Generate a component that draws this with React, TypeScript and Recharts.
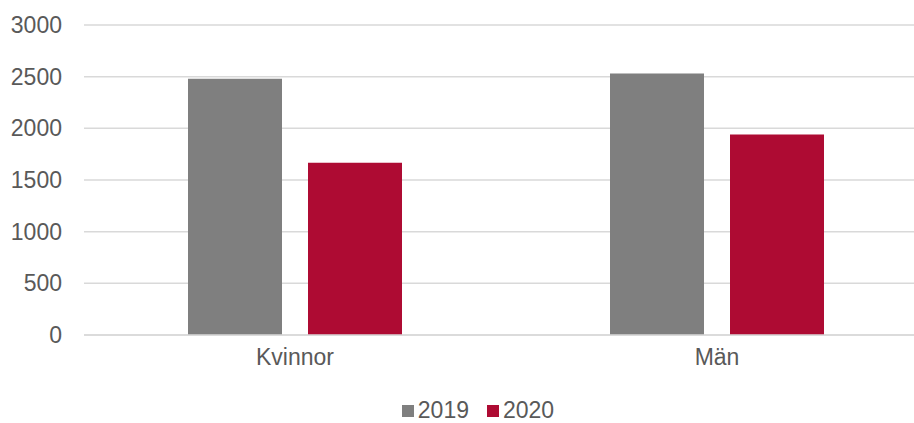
import { BarChart, Bar, XAxis, YAxis, CartesianGrid } from 'recharts';

const categories = ['Kvinnor', 'Män'];
const values2019 = [2480, 2530];
const values2020 = [1667, 1940];
const yTicks = [0, 500, 1000, 1500, 2000, 2500, 3000];
const seriesNames = ['2019', '2020'];

const COLORS = ['#7f7f7f', '#ae0b33'];
const FONT = '"Liberation Sans", Arial, sans-serif';
const TEXT = '#595959';

const data = categories.map((name, i) => ({ name, '2019': values2019[i], '2020': values2020[i] }));

export default function App() {
  return (
    <div style={{ position: 'fixed', left: 0, top: 0, width: 914, height: 423, overflow: 'hidden', background: '#fff' }}>
      <BarChart
        width={940}
        height={423}
        data={data}
        margin={{ top: 25, right: 12, left: 0, bottom: 48 }}
        barCategoryGap={104}
        barGap={26}
      >
        <CartesianGrid vertical={false} stroke="#d9d9d9" strokeWidth={1.5} />
        <XAxis
          dataKey="name"
          axisLine={{ stroke: '#d9d9d9', strokeWidth: 1.5 }}
          tickLine={false}
          tickSize={0}
          tickMargin={14}
          height={40}
          tick={{ fill: TEXT, fontSize: 23, fontFamily: FONT }}
        />
        <YAxis
          domain={[0, 3000]}
          ticks={yTicks}
          axisLine={false}
          tickLine={false}
          tickSize={0}
          tickMargin={22}
          width={84}
          tick={{ fill: TEXT, fontSize: 23, fontFamily: FONT }}
        />
        <Bar dataKey="2019" fill={COLORS[0]} barSize={94} isAnimationActive={false} />
        <Bar dataKey="2020" fill={COLORS[1]} barSize={94} isAnimationActive={false} />
      </BarChart>
      {/* legend drawn separately so it doesn't eat into the plot area */}
      <div
        style={{
          position: 'absolute', top: 397, left: 0, width: 956,
          display: 'flex', justifyContent: 'center', alignItems: 'center', gap: 18,
        }}
      >
        {seriesNames.map((label, i) => (
          <div key={label} style={{ display: 'flex', alignItems: 'center' }}>
            <span style={{ width: 12, height: 12, background: COLORS[i], display: 'inline-block', marginRight: 4 }} />
            <span style={{ fontFamily: FONT, fontSize: 23, color: TEXT }}>{label}</span>
          </div>
        ))}
      </div>
    </div>
  );
}
